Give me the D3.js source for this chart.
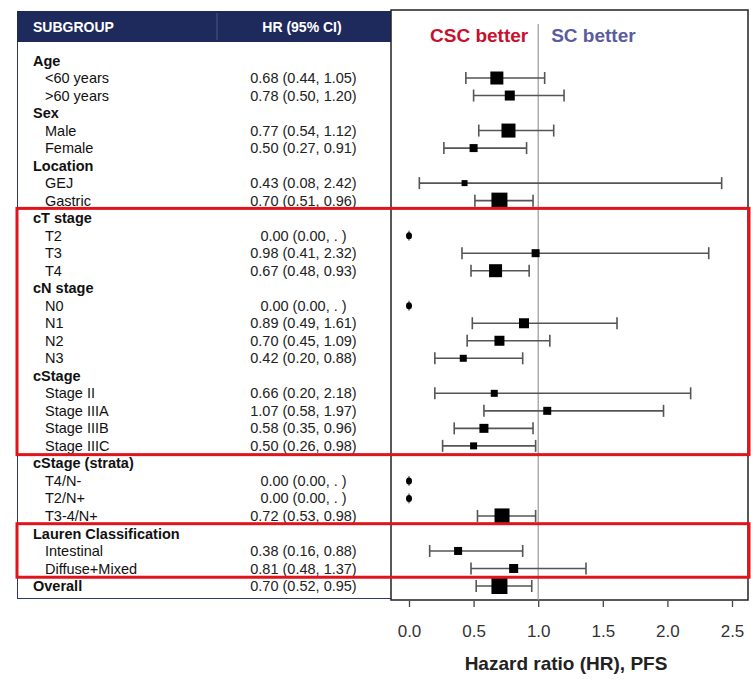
<!DOCTYPE html>
<html>
<head>
<meta charset="utf-8">
<script src="https://cdn.jsdelivr.net/npm/d3@7"></script>
<style>
  body { margin: 0; background: #fff; }
  svg { display: block; font-family: "Liberation Sans", Arial, sans-serif; }
</style>
</head>
<body>
<div id="forest"></div>
<script>
const rowLabels = ["Age", "<60 years", ">60 years", "Sex", "Male", "Female", "Location", "GEJ", "Gastric",
  "cT stage", "T2", "T3", "T4", "cN stage", "N0", "N1", "N2", "N3",
  "cStage", "Stage II", "Stage IIIA", "Stage IIIB", "Stage IIIC",
  "cStage (strata)", "T4/N-", "T2/N+", "T3-4/N+",
  "Lauren Classification", "Intestinal", "Diffuse+Mixed", "Overall"];
const headerRows = ["Age", "Sex", "Location", "cT stage", "cN stage", "cStage", "cStage (strata)", "Lauren Classification", "Overall"];

const hr = [null, 0.68, 0.78, null, 0.77, 0.50, null, 0.43, 0.70,
  null, 0.00, 0.98, 0.67, null, 0.00, 0.89, 0.70, 0.42,
  null, 0.66, 1.07, 0.58, 0.50,
  null, 0.00, 0.00, 0.72,
  null, 0.38, 0.81, 0.70];
const lo = [null, 0.44, 0.50, null, 0.54, 0.27, null, 0.08, 0.51,
  null, 0.00, 0.41, 0.48, null, 0.00, 0.49, 0.45, 0.20,
  null, 0.20, 0.58, 0.35, 0.26,
  null, 0.00, 0.00, 0.53,
  null, 0.16, 0.48, 0.52];
const hi = [null, 1.05, 1.20, null, 1.12, 0.91, null, 2.42, 0.96,
  null, null, 2.32, 0.93, null, null, 1.61, 1.09, 0.88,
  null, 2.18, 1.97, 0.96, 0.98,
  null, null, null, 0.98,
  null, 0.88, 1.37, 0.95];
// relative weight of each subgroup (box size)
const weights = [null, 13, 10, null, 14, 8, null, 6, 16,
  null, 0, 8, 13, null, 0, 10, 10, 7,
  null, 7, 8, 9, 7,
  null, 0, 0, 15,
  null, 8, 9, 16];
const xTicks = [0, 0.5, 1.0, 1.5, 2.0, 2.5];

// highlighted groups (first and last row of each red box)
const boxes = [["cT stage", "Stage IIIC"], ["Lauren Classification", "Diffuse+Mixed"]];

const width = 751, height = 680;
const rows = rowLabels.map((label, i) => ({
  label, i, hr: hr[i], lo: lo[i], hi: hi[i], w: weights[i],
  header: headerRows.includes(label)
}));

const svg = d3.select("#forest").append("svg")
  .attr("width", width)
  .attr("height", height);

const y = d3.scalePoint()
  .domain(d3.range(rowLabels.length))
  .range([60.5, 586]);
const step = y.step();

const x = d3.scaleLinear()
  .domain([0, 2.5])
  .range([409, 732]);

const size = d3.scaleLinear()
  .domain([0, d3.max(weights)])
  .range([0, 16]);

// table frame
const navy = "#1f2a5c";
svg.append("rect").attr("x", 17).attr("y", 11).attr("width", 374).attr("height", 31).attr("fill", navy);
svg.append("line").attr("x1", 217).attr("x2", 217).attr("y1", 13).attr("y2", 40)
  .attr("stroke", "#4b5683").attr("stroke-width", 1);
svg.append("line").attr("x1", 17.5).attr("x2", 17.5).attr("y1", 42).attr("y2", 598)
  .attr("stroke", "#2c3a6b").attr("stroke-width", 1);
svg.append("line").attr("x1", 17).attr("x2", 391).attr("y1", 598.5).attr("y2", 598.5)
  .attr("stroke", "#2c3a6b").attr("stroke-width", 1);

svg.append("text").attr("x", 33).attr("y", 27).attr("dy", "0.35em")
  .attr("fill", "#fff").attr("font-weight", "bold").attr("font-size", 14)
  .text("SUBGROUP");
svg.append("text").attr("x", 302).attr("y", 27).attr("dy", "0.35em")
  .attr("text-anchor", "middle")
  .attr("fill", "#fff").attr("font-weight", "bold").attr("font-size", 14)
  .text("HR (95% CI)");

// row labels
svg.append("g").selectAll("text")
  .data(rows)
  .join("text")
  .attr("x", d => d.header ? 33 : 45)
  .attr("y", d => y(d.i))
  .attr("dy", "0.35em")
  .attr("font-size", 14.5)
  .attr("font-weight", d => d.header ? "bold" : "normal")
  .attr("fill", "#111")
  .text(d => d.label);

const fmt = d3.format(".2f");
svg.append("g").selectAll("text")
  .data(rows.filter(d => d.hr != null))
  .join("text")
  .attr("x", 303.5)
  .attr("y", d => y(d.i))
  .attr("dy", "0.35em")
  .attr("text-anchor", "middle")
  .attr("font-size", 14.5)
  .attr("fill", "#222")
  .text(d => `${fmt(d.hr)} (${fmt(d.lo)}, ${d.hi == null ? ". " : fmt(d.hi)})`);

// plot panel
svg.append("rect").attr("x", 391).attr("y", 10).attr("width", 357).attr("height", 590)
  .attr("fill", "none").attr("stroke", "#222").attr("stroke-width", 1.5);

svg.append("line")
  .attr("x1", x(1)).attr("x2", x(1))
  .attr("y1", 24).attr("y2", 600)
  .attr("stroke", "#999").attr("stroke-width", 1.2);

svg.append("text").attr("x", x(1) - 10).attr("y", 42)
  .attr("text-anchor", "end").attr("font-size", 19).attr("font-weight", "bold")
  .attr("fill", "#c8102e").text("CSC better");
svg.append("text").attr("x", x(1) + 13).attr("y", 42)
  .attr("font-size", 19).attr("font-weight", "bold")
  .attr("fill", "#5a5c9e").text("SC better");

// confidence intervals
const ci = svg.append("g").attr("stroke", "#555").attr("stroke-width", 1.6);
const withCI = rows.filter(d => d.hi != null);
ci.selectAll("line.ci").data(withCI).join("line").attr("class", "ci")
  .attr("x1", d => x(d.lo)).attr("x2", d => x(d.hi))
  .attr("y1", d => y(d.i)).attr("y2", d => y(d.i));
ci.selectAll("line.lcap").data(withCI).join("line").attr("class", "lcap")
  .attr("x1", d => x(d.lo)).attr("x2", d => x(d.lo))
  .attr("y1", d => y(d.i) - 6).attr("y2", d => y(d.i) + 6);
ci.selectAll("line.rcap").data(withCI).join("line").attr("class", "rcap")
  .attr("x1", d => x(d.hi)).attr("x2", d => x(d.hi))
  .attr("y1", d => y(d.i) - 6).attr("y2", d => y(d.i) + 6);

// point estimates
svg.append("g").selectAll("rect")
  .data(withCI)
  .join("rect")
  .attr("x", d => x(d.hr) - size(d.w) / 2)
  .attr("y", d => y(d.i) - size(d.w) / 2)
  .attr("width", d => size(d.w))
  .attr("height", d => size(d.w))
  .attr("fill", "#000");

// zero estimates without upper bound
const zero = rows.filter(d => d.hr != null && d.hi == null);
svg.append("g").selectAll("line")
  .data(zero).join("line")
  .attr("x1", d => x(d.hr)).attr("x2", d => x(d.hr))
  .attr("y1", d => y(d.i) - 5).attr("y2", d => y(d.i) + 5)
  .attr("stroke", "#333").attr("stroke-width", 1);
svg.append("g").selectAll("ellipse")
  .data(zero).join("ellipse")
  .attr("cx", d => x(d.hr)).attr("cy", d => y(d.i))
  .attr("rx", 3).attr("ry", 3.5)
  .attr("fill", "#000");

// x axis
const xAxis = d3.axisBottom(x)
  .tickValues(xTicks)
  .tickFormat(d3.format(".1f"))
  .tickSize(6)
  .tickPadding(18);
const gx = svg.append("g")
  .attr("transform", "translate(0, 601)")
  .call(xAxis);
gx.select(".domain").remove();
gx.selectAll(".tick line").attr("stroke", "#444").attr("stroke-width", 1.3);
gx.selectAll(".tick text").attr("font-size", 17).attr("fill", "#333")
  .attr("font-family", "'Liberation Sans', Arial, sans-serif");

svg.append("text").attr("x", 566).attr("y", 670)
  .attr("text-anchor", "middle").attr("font-size", 19).attr("font-weight", "bold")
  .attr("fill", "#222").text("Hazard ratio (HR), PFS");

// red highlight boxes
boxes.forEach(([first, last]) => {
  const a = rowLabels.indexOf(first), b = rowLabels.indexOf(last);
  const top = y(a) - step / 2 - 1, bottom = y(b) + step / 2;
  svg.append("rect")
    .attr("x", 17).attr("y", top)
    .attr("width", 732).attr("height", bottom - top)
    .attr("fill", "none").attr("stroke", "#e0141b").attr("stroke-width", 3);
});
</script>
</body>
</html>
